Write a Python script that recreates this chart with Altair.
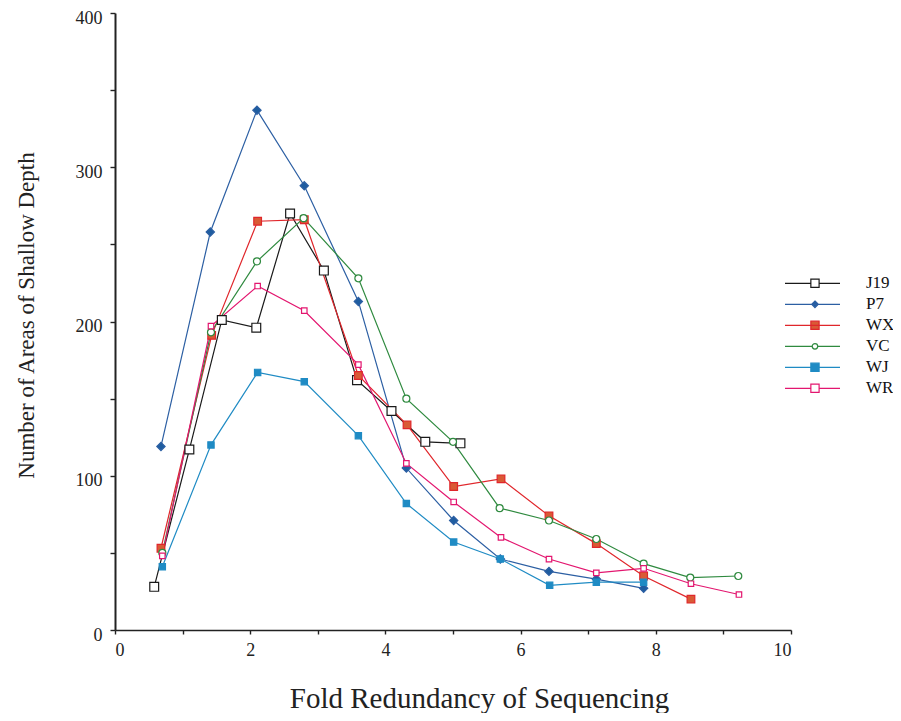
import altair as alt
import pandas as pd

series_names = ["J19", "P7", "WX", "VC", "WJ", "WR"]

J19_x = [0.58, 1.10, 1.58, 2.09, 2.59, 3.09, 3.58, 4.09, 4.59, 5.11]
J19_y = [28, 117, 201, 196, 270, 233, 162, 142, 122, 121]

P7_x = [0.68, 1.41, 2.10, 2.80, 3.60, 4.31, 5.01, 5.70, 6.42, 7.12, 7.82]
P7_y = [119, 258, 337, 288, 213, 105, 71, 46, 38, 33, 27]

WX_x = [0.68, 1.43, 2.11, 2.80, 3.60, 4.32, 5.01, 5.71, 6.42, 7.12, 7.82, 8.52]
WX_y = [53, 191, 265, 266, 165, 133, 93, 98, 74, 56, 35, 20]

VC_x = [0.70, 1.42, 2.10, 2.79, 3.60, 4.31, 5.00, 5.69, 6.42, 7.12, 7.82, 8.51, 9.22]
VC_y = [50, 193, 239, 267, 228, 150, 122, 79, 71, 59, 43, 34, 35]

WJ_x = [0.70, 1.42, 2.11, 2.80, 3.60, 4.31, 5.01, 5.70, 6.43, 7.12, 7.82]
WJ_y = [41, 120, 167, 161, 126, 82, 57, 46, 29, 31, 31]

WR_x = [0.70, 1.42, 2.11, 2.80, 3.60, 4.31, 5.01, 5.71, 6.42, 7.12, 7.82, 8.52, 9.23]
WR_y = [48, 197, 223, 207, 172, 108, 83, 60, 46, 37, 40, 30, 23]

x_ticks = list(range(0, 11))
y_ticks = list(range(0, 401, 50))

line_colors = ["#1a1a1a", "#2c5fa3", "#e0262b", "#2f8a3f", "#1f8bc4", "#e3166f"]
fill_colors = ["#ffffff", "#1f5da0", "#d95a35", "#ffffff", "#1f8bc4", "#ffffff"]
marker_shapes = ["square", "diamond", "square", "circle", "square", "square"]
marker_sizes = [78, 30, 78, 22, 78, 78]

series_xy = {
    "J19": (J19_x, J19_y), "P7": (P7_x, P7_y), "WX": (WX_x, WX_y),
    "VC": (VC_x, VC_y), "WJ": (WJ_x, WJ_y), "WR": (WR_x, WR_y),
}
rows = []
for name in series_names:
    xs, ys = series_xy[name]
    for xv, yv in zip(xs, ys):
        rows.append({"series": name, "fold": xv, "count": yv})
df = pd.DataFrame(rows)

# legend glyphs: a line with the series marker on it (path units -1..1)
c = 0.09
h = 0.15
r = 0.1
d = 0.12
sq_open = f"M-1,0H{c-h}M{c+h},0H1M{c-h},{-h}H{c+h}V{h}H{c-h}Z"
sq_fill = f"M-1,0H1M{c-h},{-h}H{c+h}V{h}H{c-h}Z"
diamond = f"M-1,0H1M{c},{-d}L{c+d},0L{c},{d}L{c-d},0Z"
circle = f"M-1,0H{c-r}M{c+r},0H1M{c-r},0A{r},{r} 0 1,0 {c+r},0A{r},{r} 0 1,0 {c-r},0Z"
legend_shapes = [sq_open, diamond, sq_fill, circle, sq_fill, sq_open]

FONT = "Liberation Serif"

x_enc = alt.X(
    "fold:Q",
    scale=alt.Scale(domain=[0, 10], nice=False, zero=False),
    axis=alt.Axis(
        values=x_ticks,
        labelExpr="datum.value % 2 === 0 ? datum.label : ''",
        title="Fold Redundancy of Sequencing",
        titleFont=FONT, titleFontSize=29, titleFontWeight="normal", titleColor="#222",
        titleX=364, titleY=77, titleAlign="center", titleBaseline="alphabetic",
        labelFont=FONT, labelFontSize=18, labelColor="#222", labelPadding=7,
        grid=False, domainColor="#222", domainWidth=1.6,
        tickColor="#222", tickSize=4, tickWidth=1.4,
    ),
)
y_enc = alt.Y(
    "count:Q",
    scale=alt.Scale(domain=[0, 400], nice=False),
    axis=alt.Axis(
        values=y_ticks,
        labelExpr="datum.value % 100 === 0 ? datum.label : ''",
        title="Number of Areas of Shallow Depth",
        titleFont=FONT, titleFontSize=23, titleFontWeight="normal", titleColor="#222",
        titleX=-82, titleY=302, titleAngle=-90, titleAlign="center", titleBaseline="alphabetic",
        labelFont=FONT, labelFontSize=18, labelColor="#222", labelPadding=8, labelOffset=5,
        grid=False, domainColor="#222", domainWidth=2,
        tickColor="#222", tickSize=5, tickWidth=1.4,
    ),
)

lines = alt.Chart(df).mark_line(strokeWidth=1.2).encode(
    x=x_enc, y=y_enc,
    stroke=alt.Stroke("series:N", scale=alt.Scale(domain=series_names, range=line_colors), legend=None),
    detail="series:N",
)

points = alt.Chart(df).mark_point(filled=True, opacity=1, strokeWidth=1.2).encode(
    x=x_enc, y=y_enc,
    shape=alt.Shape("series:N", scale=alt.Scale(domain=series_names, range=marker_shapes), legend=None),
    stroke=alt.Stroke("series:N", scale=alt.Scale(domain=series_names, range=line_colors), legend=None),
    fill=alt.Fill("series:N", scale=alt.Scale(domain=series_names, range=fill_colors), legend=None),
    size=alt.Size("series:N", scale=alt.Scale(domain=series_names, range=marker_sizes), legend=None),
)

leg = alt.Legend(
    title=None, orient="none", legendX=669, legendY=260,
    symbolSize=3025, symbolStrokeWidth=1.2, clipHeight=20.6, rowPadding=0,
    labelFont=FONT, labelFontSize=17, labelColor="#111", labelOffset=25,
    padding=0, offset=0, symbolOpacity=1,
)

legend_layer = alt.Chart(df).transform_filter("false").mark_point(
    filled=True, opacity=1, strokeWidth=1.2, size=3025
).encode(
    x=x_enc, y=y_enc,
    shape=alt.Shape("series:N", scale=alt.Scale(domain=series_names, range=legend_shapes), legend=leg),
    stroke=alt.Stroke("series:N", scale=alt.Scale(domain=series_names, range=line_colors), legend=leg),
    fill=alt.Fill("series:N", scale=alt.Scale(domain=series_names, range=fill_colors), legend=leg),
)

chart = alt.layer(lines, points, legend_layer).resolve_scale(
    shape="independent", stroke="independent", fill="independent"
).properties(
    width=676, height=617,
    autosize=alt.AutoSizeParams(type="none"),
    padding={"left": 107, "top": 5, "right": 102, "bottom": 83},
    background="white",
).configure_view(stroke=None)

chart.save("out.html", embed_options={"renderer": "svg", "actions": False})
